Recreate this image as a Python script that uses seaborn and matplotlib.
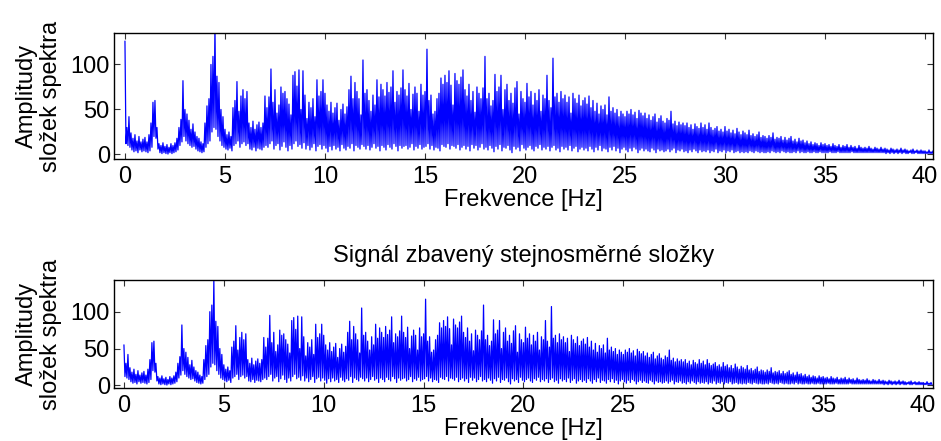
import numpy as np
import pandas as pd
import matplotlib
matplotlib.use("Agg")
import matplotlib.pyplot as plt
import seaborn as sns

# frekvencni krok mezi binama [Hz]
bin_step = 0.1

# horni hodnoty spektra v kazdem binu (0.0 .. 40.4 Hz), odhad z obrazku
spec_hi = [
    55, 30, 42, 24, 18, 22, 15, 20, 14, 17,
    19, 14, 22, 35, 58, 60, 30, 12, 10, 13,
    9, 11, 8, 12, 10, 13, 18, 30, 39, 82,
    50, 45, 38, 28, 34, 25, 20, 18, 14, 12,
    35, 54, 62, 100, 109, 143, 87, 80, 50, 42,
    28, 22, 25, 20, 52, 60, 81, 48, 65, 72,
    62, 70, 35, 30, 37, 28, 33, 36, 30, 35,
    65, 52, 64, 95, 58, 72, 46, 55, 75, 68,
    70, 62, 56, 44, 88, 92, 76, 94, 50, 93,
    66, 40, 58, 52, 62, 42, 83, 65, 70, 83,
    68, 55, 48, 58, 46, 52, 57, 38, 50, 56,
    45, 53, 72, 87, 62, 80, 70, 62, 44, 105,
    68, 72, 60, 48, 66, 55, 83, 64, 78, 72,
    65, 80, 69, 75, 93, 58, 70, 66, 74, 94,
    72, 65, 79, 50, 67, 75, 68, 48, 78, 66,
    70, 117, 60, 66, 45, 48, 62, 68, 85, 78,
    88, 80, 93, 77, 55, 90, 82, 78, 86, 94,
    72, 65, 78, 60, 70, 47, 75, 68, 62, 74,
    109, 62, 68, 54, 60, 89, 70, 75, 88, 50,
    72, 78, 60, 68, 57, 74, 81, 45, 70, 62,
    58, 79, 64, 70, 55, 68, 60, 72, 48, 66,
    62, 88, 60, 52, 107, 64, 68, 58, 70, 62,
    66, 58, 64, 46, 68, 62, 57, 66, 54, 60,
    63, 56, 65, 52, 60, 48, 57, 45, 54, 50,
    55, 44, 64, 48, 52, 46, 50, 42, 48, 45,
    42, 48, 45, 50, 44, 47, 40, 49, 46, 43,
    46, 40, 44, 38, 42, 45, 36, 40, 43, 37,
    35, 40, 38, 48, 34, 37, 32, 36, 33, 35,
    32, 35, 30, 33, 28, 34, 31, 29, 35, 30,
    33, 28, 35, 30, 27, 29, 31, 26, 28, 25,
    31, 26, 28, 24, 27, 23, 29, 25, 22, 26,
    24, 22, 27, 21, 23, 20, 22, 25, 19, 21,
    20, 18, 21, 19, 24, 17, 19, 18, 20, 16,
    19, 16, 18, 20, 15, 17, 14, 18, 15, 16,
    13, 15, 12, 14, 11, 13, 12, 10, 13, 11,
    12, 10, 11, 9, 12, 10, 9, 11, 8, 10,
    9, 11, 8, 10, 8, 9, 7, 10, 8, 7,
    8, 7, 9, 7, 6, 8, 7, 6, 8, 6,
    7, 6, 5, 7, 6, 5, 6, 5, 7, 5,
    6, 5, 4, 5, 6, 4, 5, 4, 5, 4,
    4, 3, 5, 3, 4,
]

# dolni hodnoty spektra v kazdem binu
spec_lo = [
    12, 10, 8, 5, 3, 4, 2, 5, 3, 4,
    3, 2, 4, 8, 20, 18, 6, 2, 1, 2,
    1, 0.5, 2, 1, 2, 3, 5, 10, 14, 20,
    15, 12, 10, 8, 9, 6, 4, 3, 2, 3,
    8, 12, 15, 25, 30, 28, 20, 15, 10, 8,
    6, 5, 7, 4, 10, 12, 15, 8, 12, 14,
    10, 12, 6, 5, 8, 4, 7, 6, 5, 8,
    10, 8, 12, 15, 6, 10, 12, 5, 9, 14,
    8, 4, 10, 6, 12, 15, 9, 11, 7, 13,
    6, 10, 5, 8, 12, 4, 9, 11, 6, 10,
    7, 3, 9, 5, 10, 6, 8, 4, 11, 7,
    5, 9, 7, 12, 4, 10, 8, 6, 11, 9,
    6, 10, 5, 8, 12, 7, 9, 4, 10, 8,
    5, 11, 8, 6, 12, 9, 4, 10, 7, 9,
    10, 6, 8, 12, 5, 9, 7, 11, 6, 8,
    9, 12, 6, 10, 5, 8, 7, 4, 11, 9,
    8, 12, 6, 10, 9, 7, 11, 5, 8, 10,
    6, 9, 4, 11, 7, 10, 5, 8, 12, 6,
    8, 5, 10, 7, 3, 9, 6, 11, 4, 8,
    7, 10, 5, 2, 9, 6, 8, 4, 11, 7,
    5, 8, 10, 6, 4, 9, 7, 11, 5, 8,
    6, 9, 4, 8, 10, 5, 7, 3, 9, 6,
    8, 5, 10, 4, 7, 9, 3, 6, 8, 5,
    7, 4, 9, 6, 3, 8, 5, 10, 4, 7,
    6, 3, 8, 5, 9, 4, 7, 2, 6, 8,
    5, 3, 7, 4, 8, 6, 2, 5, 7, 4,
    6, 4, 3, 7, 5, 2, 6, 4, 5, 3,
    4, 6, 3, 5, 7, 2, 5, 4, 6, 3,
    4, 2, 5, 3, 6, 4, 2, 5, 3, 4,
    3, 5, 2, 4, 3, 6, 2, 4, 3, 5,
    2, 4, 3, 5, 2, 3, 4, 2, 3, 2,
    3, 2, 4, 3, 2, 4, 3, 2, 3, 2,
    2, 3, 2, 4, 3, 2, 3, 2, 4, 3,
    2, 3, 2, 2, 3, 2, 4, 2, 3, 2,
    2, 3, 2, 2, 3, 2, 2, 3, 2, 2,
    2, 2, 3, 2, 2, 2, 3, 2, 2, 2,
    2, 2, 2, 3, 2, 2, 2, 2, 2, 2,
    2, 2, 2, 2, 2, 2, 2, 2, 2, 2,
    1, 2, 1, 2, 1, 2, 1, 2, 1, 2,
    1, 1, 2, 1, 1, 2, 1, 1, 1, 1,
    1, 1, 1, 1, 1,
]

# stejnosmerna slozka (jen v hornim grafu)
dc_top = 126

x_ticks = [0, 5, 10, 15, 20, 25, 30, 35, 40]
y_ticks = [0, 50, 100]

# poskladani hi/lo do jedne rady
amp = np.column_stack([spec_hi, spec_lo]).ravel().astype(float)
freq = np.arange(len(amp)) * (bin_step / 2)

df_bottom = pd.DataFrame({"Frekvence": freq, "Amplituda": amp})
df_top = df_bottom.copy()
df_top.loc[0, "Amplituda"] = dc_top

sns.set_style("ticks")
plt.rcParams["font.family"] = ["Liberation Sans", "DejaVu Sans"]
plt.rcParams["text.color"] = "black"
plt.rcParams["axes.labelcolor"] = "black"
plt.rcParams["xtick.labelcolor"] = "black"
plt.rcParams["ytick.labelcolor"] = "black"

FS = 17

fig = plt.figure(figsize=(9.41, 4.41), dpi=100)
ax1 = fig.add_axes([0.1211, 0.6395, 0.8704, 0.2857])
ax2 = fig.add_axes([0.1211, 0.1202, 0.8704, 0.2449])


def draw_panel(ax, df, xlim, ylim):
    sns.lineplot(
        data=df,
        x="Frekvence",
        y="Amplituda",
        ax=ax,
        color="#0000ff",
        linewidth=0.9,
        estimator=None,
        sort=False,
    )
    ax.set_xlim(*xlim)
    ax.set_ylim(*ylim)
    ax.set_xticks(x_ticks)
    ax.set_yticks(y_ticks)
    ax.tick_params(
        direction="in", top=True, right=True, length=4, width=0.8,
        labelsize=FS, color="#333333", labelcolor="black",
    )
    ax.tick_params(axis="x", pad=5)
    ax.tick_params(axis="y", pad=3)
    for s in ax.spines.values():
        s.set_linewidth(1.0)
        s.set_color("black")
    ax.set_xlabel("Frekvence [Hz]", fontsize=FS, labelpad=1)
    ax.set_ylabel("Amplitudy\nsložek spektra", fontsize=FS, labelpad=6,
                  linespacing=1.15)


draw_panel(ax1, df_top, (-0.55, 40.4), (-5, 135))
draw_panel(ax2, df_bottom, (-0.5, 40.5), (-3.5, 143))
ax2.set_title("Signál zbavený stejnosměrné složky", fontsize=FS, pad=13)

fig.savefig("out.png", dpi=100)
